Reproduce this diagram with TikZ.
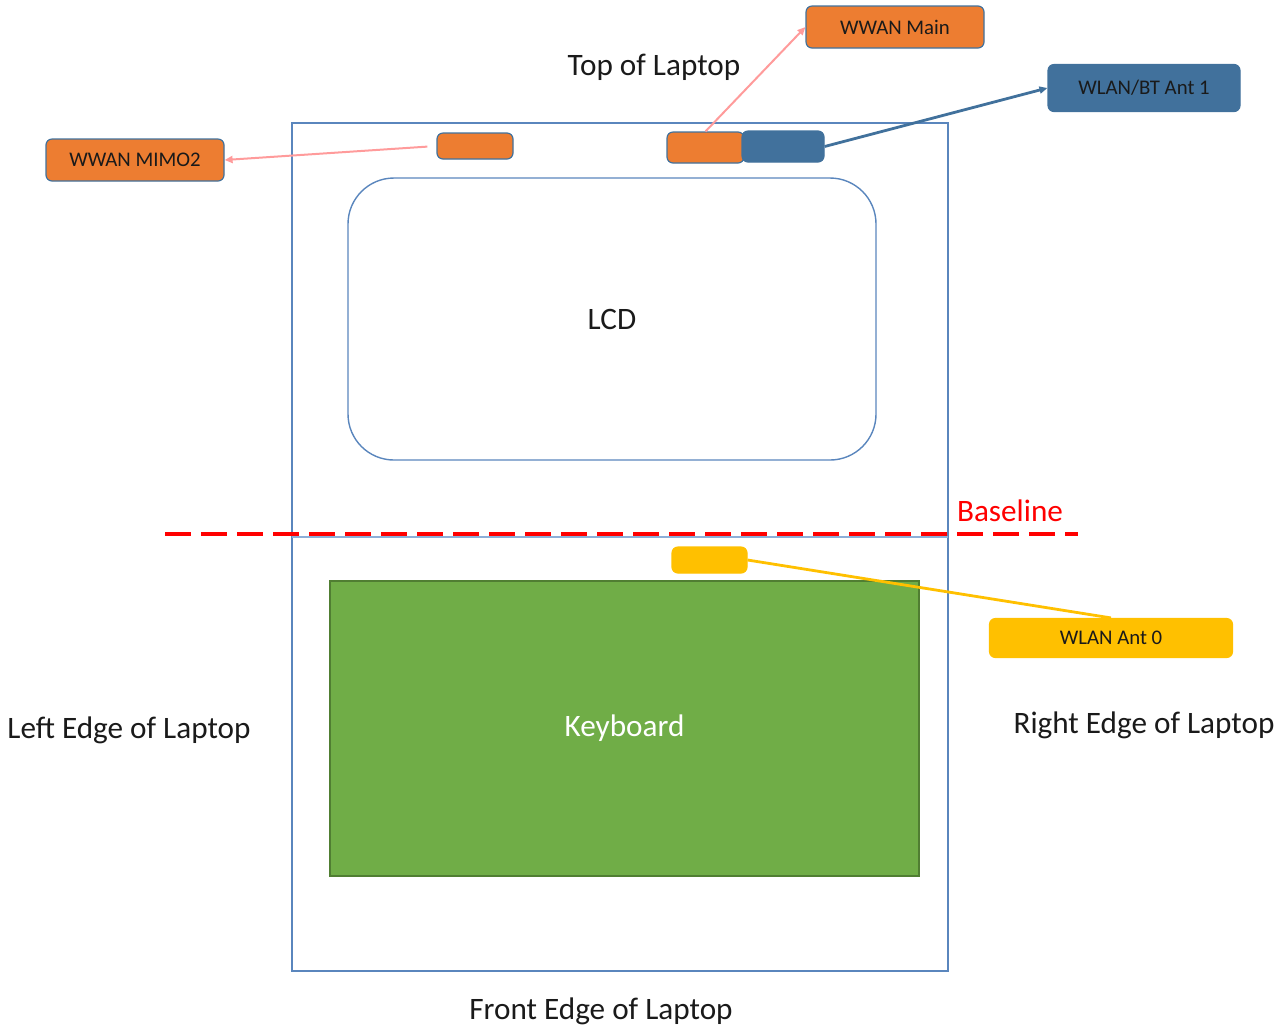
\documentclass[tikz,border=0pt]{standalone}
\usepackage{fontspec}
\setmainfont{Carlito}
\usetikzlibrary{arrows.meta}

\definecolor{antorange}{HTML}{ED7D31}
\definecolor{antblue}{HTML}{41719C}
\definecolor{antyellow}{HTML}{FFC000}
\definecolor{kbgreen}{HTML}{70AD47}
\definecolor{kbborder}{HTML}{507E32}
\definecolor{caseblue}{HTML}{5A86BD}
\definecolor{hingeblue}{HTML}{8DAFD8}
\definecolor{feedpink}{HTML}{FF9B9B}
\definecolor{inktext}{HTML}{1A1A1A}

\tikzset{
    antenna/.style={rectangle, rounded corners=3pt, inner sep=0pt, draw=antblue, line width=0.6pt},
    tag/.style={antenna, text=inktext, font=\fontsize{10.4}{12}\selectfont},
    caption/.style={text=inktext, font=\fontsize{15.6}{18}\selectfont},
    edgelabel/.style={caption, yshift=-1.5pt},
    feed/.style={-{Triangle[length=4pt,width=3.5pt]}}
}

\begin{document}
\begin{tikzpicture}[x=0.5pt,y=-0.5pt]
                \useasboundingbox (0,0) rectangle (1288,1025);

                \coordinate (A) at (292,123);
                \coordinate (B) at (948,971);

                % laptop body and hinge
                \draw[caseblue, line width=0.7pt] (A) rectangle (B);
                \draw[hingeblue, line width=1pt] (292,537) -- (948,537);

                % screen and keyboard
                \node[draw=caseblue, line width=0.7pt, rounded corners=23pt, minimum width=264pt, minimum height=141pt, caption] (lcd) at (612,319) {LCD};
                \node[draw=kbborder, fill=kbgreen, line width=0.6pt, minimum width=294.5pt, minimum height=147.5pt, caption, text=white] (keyboard) at (624.5,728.5) {Keyboard};

                % antennas on the laptop
                \node[antenna, fill=antorange, minimum width=38pt, minimum height=13pt] (mimo) at (475,146) {};
                \node[antenna, fill=antorange, minimum width=38.5pt, minimum height=15.5pt] (main) at (705.5,147.5) {};
                \node[antenna, fill=antblue, minimum width=41pt, minimum height=15.5pt] (bt) at (783,146.5) {};
                \node[antenna, fill=antyellow, draw=antyellow, minimum width=37.5pt, minimum height=13pt] (ant0) at (709.5,560) {};

                % antenna tags
                \node[tag, fill=antorange, minimum width=89pt, minimum height=21pt] (mimotag) at (135,160) {WWAN MIMO2};
                \node[tag, fill=antorange, minimum width=89pt, minimum height=21pt] (maintag) at (895,27) {WWAN Main};
                \node[tag, fill=antblue, minimum width=96pt, minimum height=23.5pt] (bttag) at (1144,88) {WLAN/BT Ant 1};
                \node[tag, fill=antyellow, draw=antyellow, minimum width=121.5pt, minimum height=19.5pt] (ant0tag) at (1111,638) {WLAN Ant 0};

                \draw[feed, feedpink, line width=1pt] (main.north) -- (maintag.west);
                \draw[feed, feedpink, line width=1pt, shorten <=4.5pt] (mimo.west) -- (mimotag.east);
                \draw[feed, antblue, line width=1.4pt] (bt.east) -- (bttag.west);
                \draw[antyellow, line width=1.4pt] (ant0.east) -- (ant0tag.north);

                % baseline
                \draw[red, line width=1.7pt, dash pattern=on 13pt off 5pt] (165,534) -- (1078,534);
                \node[caption, text=red] (baseline) at (1010,511) {Baseline};

                \node[edgelabel] (top) at (654,64) {Top of Laptop};
                \node[edgelabel] (left) at (129,727) {Left Edge of Laptop};
                \node[edgelabel] (right) at (1144,722) {Right Edge of Laptop};
                \node[edgelabel] (front) at (601,1008) {Front Edge of Laptop};

                \end{tikzpicture}
\end{document}
